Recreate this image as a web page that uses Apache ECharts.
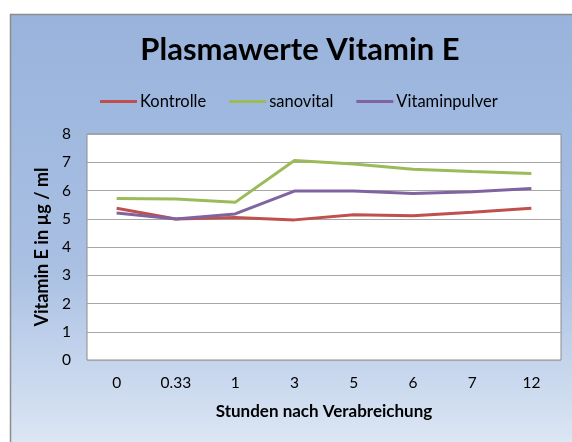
<!DOCTYPE html>
<html><head><meta charset="utf-8">
<script src="https://cdn.jsdelivr.net/npm/echarts@6/dist/echarts.min.js"></script>
<style>html,body{margin:0;padding:0;background:#fff}#c{width:572px;height:442px}</style>
</head><body><div id="c"></div>
<script>
const categories = ['0', '0.33', '1', '3', '5', '6', '7', '12'];
const kontrolle = [5.37, 4.99, 5.04, 4.96, 5.14, 5.11, 5.23, 5.37];
const sanovital = [5.72, 5.70, 5.58, 7.06, 6.94, 6.75, 6.67, 6.60];
const vitaminpulver = [5.20, 4.99, 5.17, 5.98, 5.98, 5.89, 5.96, 6.07];
const seriesNames = ['Kontrolle', 'sanovital', 'Vitaminpulver'];
const colors = ['#C0504D', '#9BBB59', '#8064A2'];
const FONT = 'Lato';

const chart = echarts.init(document.getElementById('c'), null, {renderer: 'canvas'});
chart.setOption({
  animation: false,
  textStyle: {fontFamily: FONT},
  graphic: [{
    type: 'rect', z: -10, silent: true,
    shape: {x: 10.5, y: 14.5, width: 600, height: 460},
    style: {
      fill: new echarts.graphic.LinearGradient(0, 0, 0, 1, [
        {offset: 0, color: '#99B3DC'},
        {offset: 0.55, color: '#A9C0E3'},
        {offset: 0.93, color: '#DCE6F4'},
        {offset: 1, color: '#E2EAF6'}
      ]),
      stroke: '#8C8C8C', lineWidth: 1.5
    }
  }],
  title: {
    text: 'Plasmawerte Vitamin E',
    left: 295, top: 29, textAlign: 'center',
    textStyle: {fontFamily: FONT, fontSize: 31, fontWeight: 'bold', color: '#000'}
  },
  legend: {
    top: 88, left: 95, itemGap: 23, itemWidth: 37, itemHeight: 3,
    icon: 'rect',
    textStyle: {fontFamily: FONT, fontSize: 16.5, color: '#000', padding: [0, 0, 0, -2]},
    data: seriesNames
  },
  grid: {
    left: 87, right: 11, top: 134, bottom: 82,
    show: true, backgroundColor: '#fff', borderColor: '#8C8C8C', borderWidth: 1
  },
  xAxis: {
    type: 'category', data: categories, boundaryGap: true,
    axisLine: {show: false}, axisTick: {show: false},
    axisLabel: {fontFamily: FONT, fontSize: 15.5, color: '#000', margin: 15},
    name: 'Stunden nach Verabreichung', nameLocation: 'middle', nameGap: 43,
    nameTextStyle: {fontFamily: FONT, fontSize: 17, fontWeight: 'bold', color: '#000'}
  },
  yAxis: {
    type: 'value', min: 0, max: 8, interval: 1,
    axisLine: {show: false}, axisTick: {show: false},
    axisLabel: {fontFamily: FONT, fontSize: 15.5, color: '#000', margin: 16},
    splitLine: {lineStyle: {color: '#A6A6A6', width: 1}},
    name: 'Vitamin E in µg / ml', nameLocation: 'middle', nameGap: 30, nameRotate: 90,
    nameTextStyle: {fontFamily: FONT, fontSize: 18, fontWeight: 'bold', color: '#000'}
  },
  series: [kontrolle, sanovital, vitaminpulver].map((d, i) => ({
    name: seriesNames[i], type: 'line', data: d,
    symbol: 'none', smooth: false,
    lineStyle: {color: colors[i], width: 3},
    itemStyle: {color: colors[i]}
  }))
});
</script></body></html>
